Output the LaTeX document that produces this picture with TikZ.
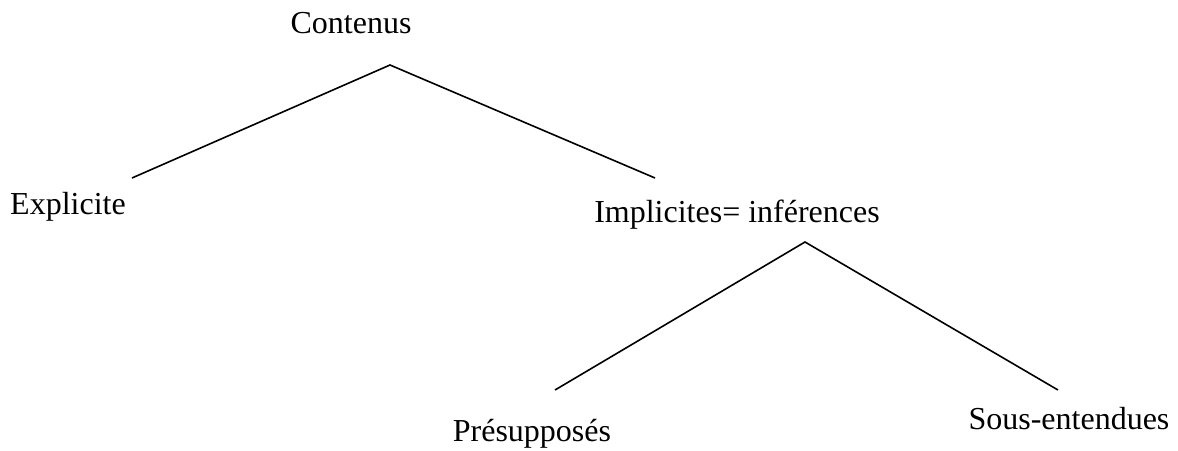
\documentclass[tikz,border=0pt]{standalone}
\usepackage{fontspec}
\setmainfont{Liberation Serif}
\begin{document}
\begin{tikzpicture}[x=0.75pt,y=-0.75pt,
  lbl/.style={inner sep=0pt,anchor=base,font=\fontsize{24}{28}\selectfont},
  branch/.style={draw=black,line width=1.2pt}]
\useasboundingbox (0,0) rectangle (1178,450);
\node[lbl] (contenus) at (351,33) {Contenus};
\node[lbl] (explicite) at (68,214) {Explicite};
\node[lbl] (implicites) at (737,222) {Implicites= inférences};
\node[lbl] (presupposes) at (532,441) {Présupposés};
\node[lbl] (sousentendues) at (1069,429) {Sous-entendues};
\coordinate (top1) at (390,65);
\coordinate (l1) at (132,178);
\coordinate (r1) at (655,178);
\coordinate (top2) at (805,242);
\coordinate (l2) at (555,390);
\coordinate (r2) at (1058,390);
\draw[branch] (l1) -- (top1) -- (r1);
\draw[branch] (l2) -- (top2) -- (r2);
\end{tikzpicture}
\end{document}
